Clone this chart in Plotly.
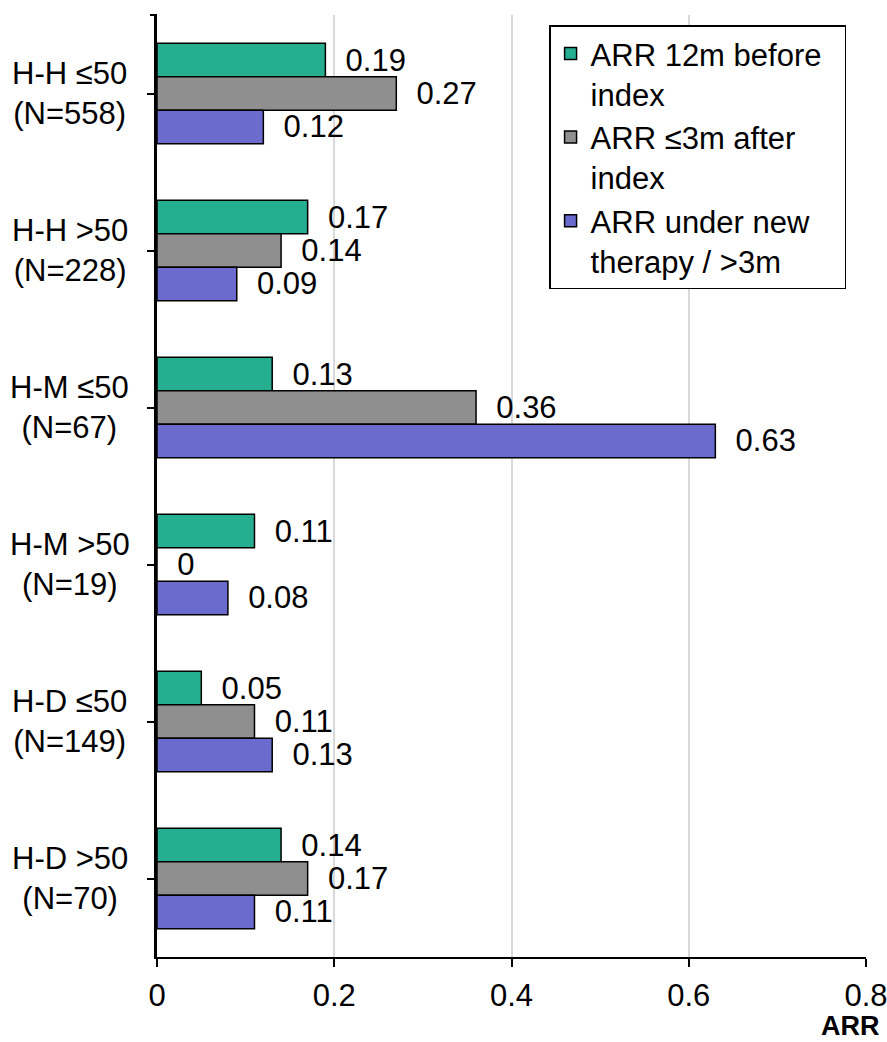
import plotly.graph_objects as go

categories = ["H-H ≤50", "H-H >50", "H-M ≤50", "H-M >50", "H-D ≤50", "H-D >50"]
n_labels = ["(N=558)", "(N=228)", "(N=67)", "(N=19)", "(N=149)", "(N=70)"]

series_names = ["ARR 12m before\u00a0\u00a0<br>index", "ARR ≤3m after<br>index", "ARR under new<br>therapy / >3m"]
arr_before = [0.19, 0.17, 0.13, 0.11, 0.05, 0.14]
arr_after3m = [0.27, 0.14, 0.36, 0, 0.11, 0.17]
arr_new = [0.12, 0.09, 0.63, 0.08, 0.13, 0.11]
x_ticks = [0, 0.2, 0.4, 0.6, 0.8]

colors = ["#26AE91", "#8F8F8F", "#6B6BCE"]
FONT = "Liberation Sans, Arial, sans-serif"
FS = 31

fig = go.Figure()
for name, vals, col in zip(series_names, [arr_before, arr_after3m, arr_new], colors):
    fig.add_trace(go.Bar(
        y=categories, x=vals, name=name, orientation="h",
        marker=dict(color=col, line=dict(color="black", width=1.5)),
        texttemplate="\u00a0\u00a0%{x}", textposition="outside",
        textfont=dict(family=FONT, size=FS, color="black"),
        constraintext="none", cliponaxis=False,
    ))

for cat, nl in zip(categories, n_labels):
    fig.add_annotation(
        x=-0.123, xref="paper", y=cat, yref="y",
        text=f"{cat}<br>{nl}", showarrow=False, align="center",
        xanchor="center", yanchor="middle",
        font=dict(family=FONT, size=FS, color="black"),
    )

fig.add_annotation(
    x=1, xref="paper", y=0, yref="paper", xanchor="right", yanchor="middle",
    xshift=16, yshift=-69, text="<b>ARR</b>", showarrow=False,
    font=dict(family=FONT, size=27, color="black"),
)

# top end tick of the category axis
fig.add_shape(type="line", xref="paper", yref="paper", x0=-0.0099, x1=0, y0=1, y1=1,
              line=dict(color="black", width=2))

fig.update_layout(
    width=887, height=1042, autosize=False,
    margin=dict(l=157, r=21, t=15, b=85, autoexpand=False),
    paper_bgcolor="white", plot_bgcolor="white",
    barmode="group", bargap=0.36, bargroupgap=0,
    font=dict(family=FONT, size=FS, color="black"),
    legend=dict(
        x=0.553, y=0.989, xanchor="left", yanchor="top",
        bordercolor="black", borderwidth=1.5, bgcolor="white",
        font=dict(family=FONT, size=FS, color="black"),
        valign="top", traceorder="normal",
    ),
    xaxis=dict(
        range=[0, 0.8], tickvals=x_ticks, ticktext=[f"{v:g}" for v in x_ticks],
        showgrid=True, gridcolor="#D9D9D9", gridwidth=2,
        showline=True, linecolor="black", linewidth=2,
        ticks="outside", ticklen=8, tickwidth=2, tickcolor="black",
        zeroline=False, ticklabelstandoff=2, ticklabeloverflow="allow",
        automargin=False,
        tickfont=dict(family=FONT, size=FS, color="black"),
    ),
    yaxis=dict(
        range=[5.5, -0.5], showgrid=False,
        showline=True, linecolor="black", linewidth=2.5,
        ticks="outside", ticklen=7, tickwidth=2, tickcolor="black",
        showticklabels=False, zeroline=False, automargin=False,
    ),
    showlegend=True,
)

fig.write_html("out.html", config={"displayModeBar": False},
               post_script="document.body.style.margin='0';")
